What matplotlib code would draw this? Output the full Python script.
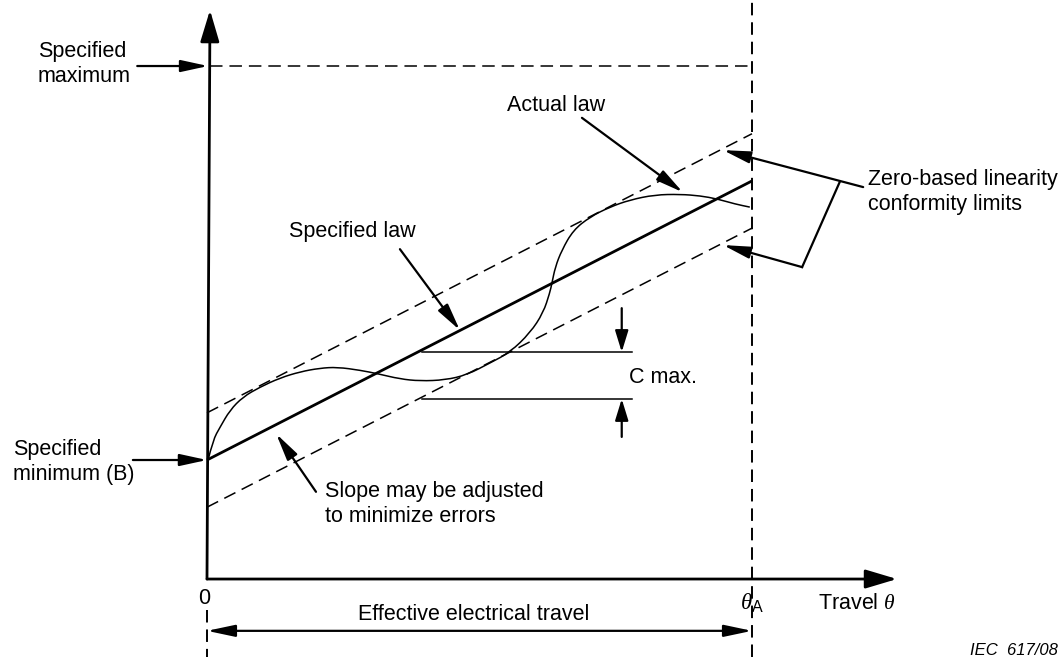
import matplotlib
matplotlib.use("Agg")
import matplotlib.pyplot as plt
from matplotlib.path import Path
from matplotlib.patches import PathPatch
import numpy as np

plt.rcParams['font.family'] = ['Liberation Sans', 'DejaVu Sans']
plt.rcParams['mathtext.fontset'] = 'custom'
plt.rcParams['mathtext.it'] = 'Liberation Serif:italic'
plt.rcParams['mathtext.rm'] = 'Liberation Sans'
plt.rcParams['lines.scale_dashes'] = False

# diagram units: travel 0..1 (theta_A = 1), output 0..1 (specified maximum = 1)
theta_a = 1.0
spec_max = 1.0
spec_min = 0.232          # B
law_end = 0.776           # specified law at theta_A
band = 0.092              # conformity limit half width

# actual law
actual_x = [0.002, 0.011, 0.024, 0.042, 0.066, 0.097, 0.134, 0.171, 0.207, 0.239,
            0.281, 0.314, 0.354, 0.391, 0.437, 0.477, 0.519, 0.556, 0.593, 0.617,
            0.629, 0.633, 0.639, 0.651, 0.672, 0.703, 0.739, 0.776, 0.822, 0.868,
            0.905, 0.936, 0.969, 0.996]
actual_y = [0.232, 0.271, 0.296, 0.329, 0.355, 0.374, 0.392, 0.404, 0.411, 0.413,
            0.407, 0.400, 0.390, 0.386, 0.388, 0.398, 0.421, 0.442, 0.480, 0.519,
            0.558, 0.577, 0.608, 0.641, 0.680, 0.706, 0.725, 0.739, 0.749, 0.750,
            0.747, 0.741, 0.731, 0.725]

# C max marks
c_x = [0.394, 0.780]
c_upper = 0.4425
c_lower = 0.351
c_arrow_x = 0.761

fig = plt.figure(figsize=(10.64, 6.57), dpi=100)
ax = fig.add_axes([0, 0, 1, 1])
ax.set_xlim(-0.3798, 1.5725)
ax.set_ylim(-0.152, 1.1287)
ax.axis('off')


def arrow(tail, tip, lw=1.6, hl=16.5, hw=3.6):
    ax.annotate('', xy=tip, xytext=tail,
                arrowprops=dict(arrowstyle=f'-|>,head_length={hl},head_width={hw}',
                                mutation_scale=1, lw=lw, color='black', fc='black',
                                shrinkA=0, shrinkB=0))


# axes
arrow((0, 0), (0.0055, 1.109), lw=2.0, hl=19.4, hw=5.8)
arrow((0, 0), (1.266, 0), lw=2.0, hl=19.4, hw=5.8)

# dashed verticals
ax.plot([theta_a, theta_a], [-0.152, 1.1287], color='black', lw=1.4, dashes=(9, 5))
ax.plot([0, 0], [-0.060, -0.152], color='black', lw=1.4, dashes=(9, 5))

# specified maximum
ax.plot([0.005, theta_a], [spec_max, spec_max], color='black', lw=1.1, dashes=(9, 5))

# specified law and conformity limits
law_x = np.array([0, theta_a])
law_y = np.array([spec_min, law_end])
ax.plot(law_x, law_y, color='black', lw=2.0, solid_capstyle='butt')
ax.plot(law_x, law_y + band, color='black', lw=1.1, dashes=(9, 5))
ax.plot(law_x, law_y - band, color='black', lw=1.1, dashes=(9, 5))

# actual law, drawn as a smooth path with the read points as control points
pts = list(zip(actual_x, actual_y))
verts = [pts[0]]
codes = [Path.MOVETO]
for i in range(1, len(pts) - 1):
    mid = ((pts[i][0] + pts[i + 1][0]) / 2, (pts[i][1] + pts[i + 1][1]) / 2)
    verts += [pts[i], mid]
    codes += [Path.CURVE3, Path.CURVE3]
verts.append(pts[-1])
codes.append(Path.LINETO)
ax.add_patch(PathPatch(Path(verts, codes), fill=False, lw=1.1, ec='black'))

# C max
ax.plot(c_x, [c_upper, c_upper], color='black', lw=1.1)
ax.plot(c_x, [c_lower, c_lower], color='black', lw=1.1)
arrow((c_arrow_x, 0.528), (c_arrow_x, c_upper), lw=1.6, hl=13, hw=4)
arrow((c_arrow_x, 0.277), (c_arrow_x, c_lower), lw=1.6, hl=13, hw=4)

fs = 15.5
ls = 1.25
ax.text(0.774, 0.392, 'C max.', fontsize=fs, ha='left', va='center')

ax.text(-0.310, 1.004, 'Specified\nmaximum', fontsize=fs, ha='left', va='center', linespacing=ls)
arrow((-0.128, spec_max), (0.002, spec_max))
ax.text(-0.356, 0.228, 'Specified\nminimum (B)', fontsize=fs, ha='left', va='center', linespacing=ls)
arrow((-0.136, spec_min), (0, spec_min))

ax.text(0.640, 0.924, 'Actual law', fontsize=fs, ha='center', va='center')
arrow((0.688, 0.899), (0.873, 0.754))

ax.text(0.266, 0.678, 'Specified law', fontsize=fs, ha='center', va='center')
arrow((0.354, 0.643), (0.464, 0.485))

ax.text(0.2165, 0.146, 'Slope may be adjusted\nto minimize errors', fontsize=fs,
        ha='left', va='center', linespacing=ls)
arrow((0.200, 0.170), (0.127, 0.283))

ax.text(1.213, 0.754, 'Zero-based linearity\nconformity limits', fontsize=fs,
        ha='left', va='center', linespacing=ls)
arrow((1.204, 0.764), (0.947, 0.836))
ax.plot([1.161, 1.092], [0.774, 0.608], color='black', lw=1.6)
arrow((1.092, 0.608), (0.947, 0.651))

ax.text(-0.0055, -0.037, '0', fontsize=fs, ha='center', va='center')
ax.text(1.0, -0.047, r'$\theta_\mathrm{A}$', fontsize=16.5, ha='center', va='center')
ax.text(1.121, -0.047, r'Travel $\theta$', fontsize=fs, ha='left', va='center')

ax.text(0.277, -0.070, 'Effective electrical travel', fontsize=fs, ha='left', va='center')
ax.annotate('', xy=(theta_a, -0.101), xytext=(0, -0.101),
            arrowprops=dict(arrowstyle='<|-|>,head_length=17,head_width=3.6',
                            mutation_scale=1, lw=1.6, color='black', fc='black',
                            shrinkA=0, shrinkB=0))

ax.text(1.5615, -0.140, 'IEC  617/08', fontsize=12, style='italic', ha='right', va='center')

fig.savefig('out.png', dpi=100)
